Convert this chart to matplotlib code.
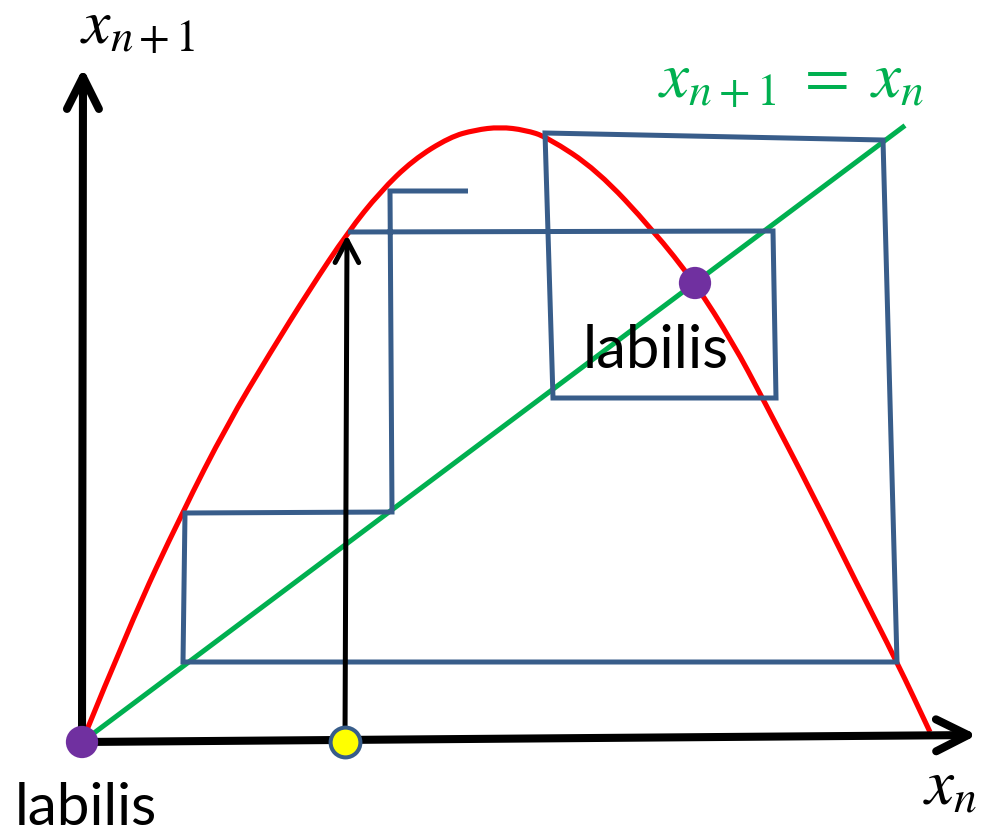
import matplotlib
matplotlib.use("Agg")
import matplotlib.pyplot as plt
from matplotlib.path import Path
from matplotlib.patches import PathPatch

plt.rcParams["mathtext.fontset"] = "stix"

# picture is laid out in pixel units (x to the right, y downwards)
W, H = 987, 830

# axes of the diagram
y_axis = [(82, 742), (83, 68)]
x_axis = [(82, 742), (977, 735)]

# red map curve x_{n+1} = f(x_n)
curve_x = [82, 130, 182, 227, 270, 310, 348, 380, 413, 450, 475, 500,
           525, 547, 597, 653, 695, 733, 763, 813, 857, 897, 930]
curve_y = [742, 624, 513, 425, 353, 289, 232, 192, 160, 137, 130, 127,
           130, 137, 170, 230, 283, 343, 399, 495, 584, 662, 732]

# green diagonal x_{n+1} = x_n
diag_x = [82, 903]
diag_y = [742, 127]

# blue cobweb path
web_x = [468, 390, 392, 185, 183, 897, 883, 545, 553, 776, 773, 348]
web_y = [191, 191, 512, 513, 662, 662, 140, 133, 398, 398, 231, 232]

# starting value arrow (x0 up to the curve)
start_arrow = [(345, 742), (347, 235)]

# points
fixed_x = [82, 695]
fixed_y = [742, 283]
start_x = [345]
start_y = [742]

fig = plt.figure(figsize=(W / 100, H / 100), dpi=100)
ax = fig.add_axes([0, 0, 1, 1])
ax.set_xlim(0, W)
ax.set_ylim(H, 0)
ax.axis("off")

# smooth the read points with quadratic bezier pieces
pts = list(zip(curve_x, curve_y))
verts = [pts[0]]
codes = [Path.MOVETO]
for i in range(1, len(pts) - 1):
    mid = ((pts[i][0] + pts[i + 1][0]) / 2, (pts[i][1] + pts[i + 1][1]) / 2)
    verts += [pts[i], mid]
    codes += [Path.CURVE3, Path.CURVE3]
verts.append(pts[-1])
codes.append(Path.LINETO)
ax.add_patch(PathPatch(Path(verts, codes), fill=False, edgecolor="#FF0000",
                       lw=3.7, zorder=2))

ax.plot(diag_x, diag_y, color="#00B050", lw=3.6, zorder=2)
ax.plot(web_x, web_y, color="#385D8A", lw=3.6, solid_joinstyle="miter",
        solid_capstyle="butt", zorder=3)

# axis arrows
for (x0, y0), (x1, y1) in [y_axis, x_axis]:
    ax.annotate("", xy=(x1, y1), xytext=(x0, y0),
                arrowprops=dict(arrowstyle="->,head_length=23,head_width=11.5",
                                lw=5.8, color="black", shrinkA=0, shrinkB=0,
                                mutation_scale=1, capstyle="round", joinstyle="round"),
                zorder=4)

(x0, y0), (x1, y1) = start_arrow
ax.annotate("", xy=(x1, y1), xytext=(x0, y0),
            arrowprops=dict(arrowstyle="->,head_length=16,head_width=8.5",
                            lw=3.6, color="black", shrinkA=0, shrinkB=0,
                            mutation_scale=1, capstyle="round", joinstyle="round"),
            zorder=4)

ax.scatter(fixed_x, fixed_y, s=540, color="#7030A0", edgecolors="none", zorder=6)
ax.scatter(start_x, start_y, s=460, color="#FFFF00", edgecolors="#385D8A",
           linewidths=2.9, zorder=6)

# labels
ax.text(80, 44, r"$x_{n+1}$", fontsize=46, color="black", va="baseline", ha="left")
ax.text(658, 97, r"$x_{n+1}\;=\;x_n$", fontsize=47, color="#00B050",
        va="baseline", ha="left")
ax.text(923, 805, r"$x_n$", fontsize=47, color="black", va="baseline", ha="left")
ax.text(15, 825, "labilis", fontsize=42, family="Lato", color="black",
        va="baseline", ha="left")
ax.text(583, 368, "labilis", fontsize=43, family="Lato", color="black",
        va="baseline", ha="left", zorder=7)

fig.savefig("out.png", dpi=100)
